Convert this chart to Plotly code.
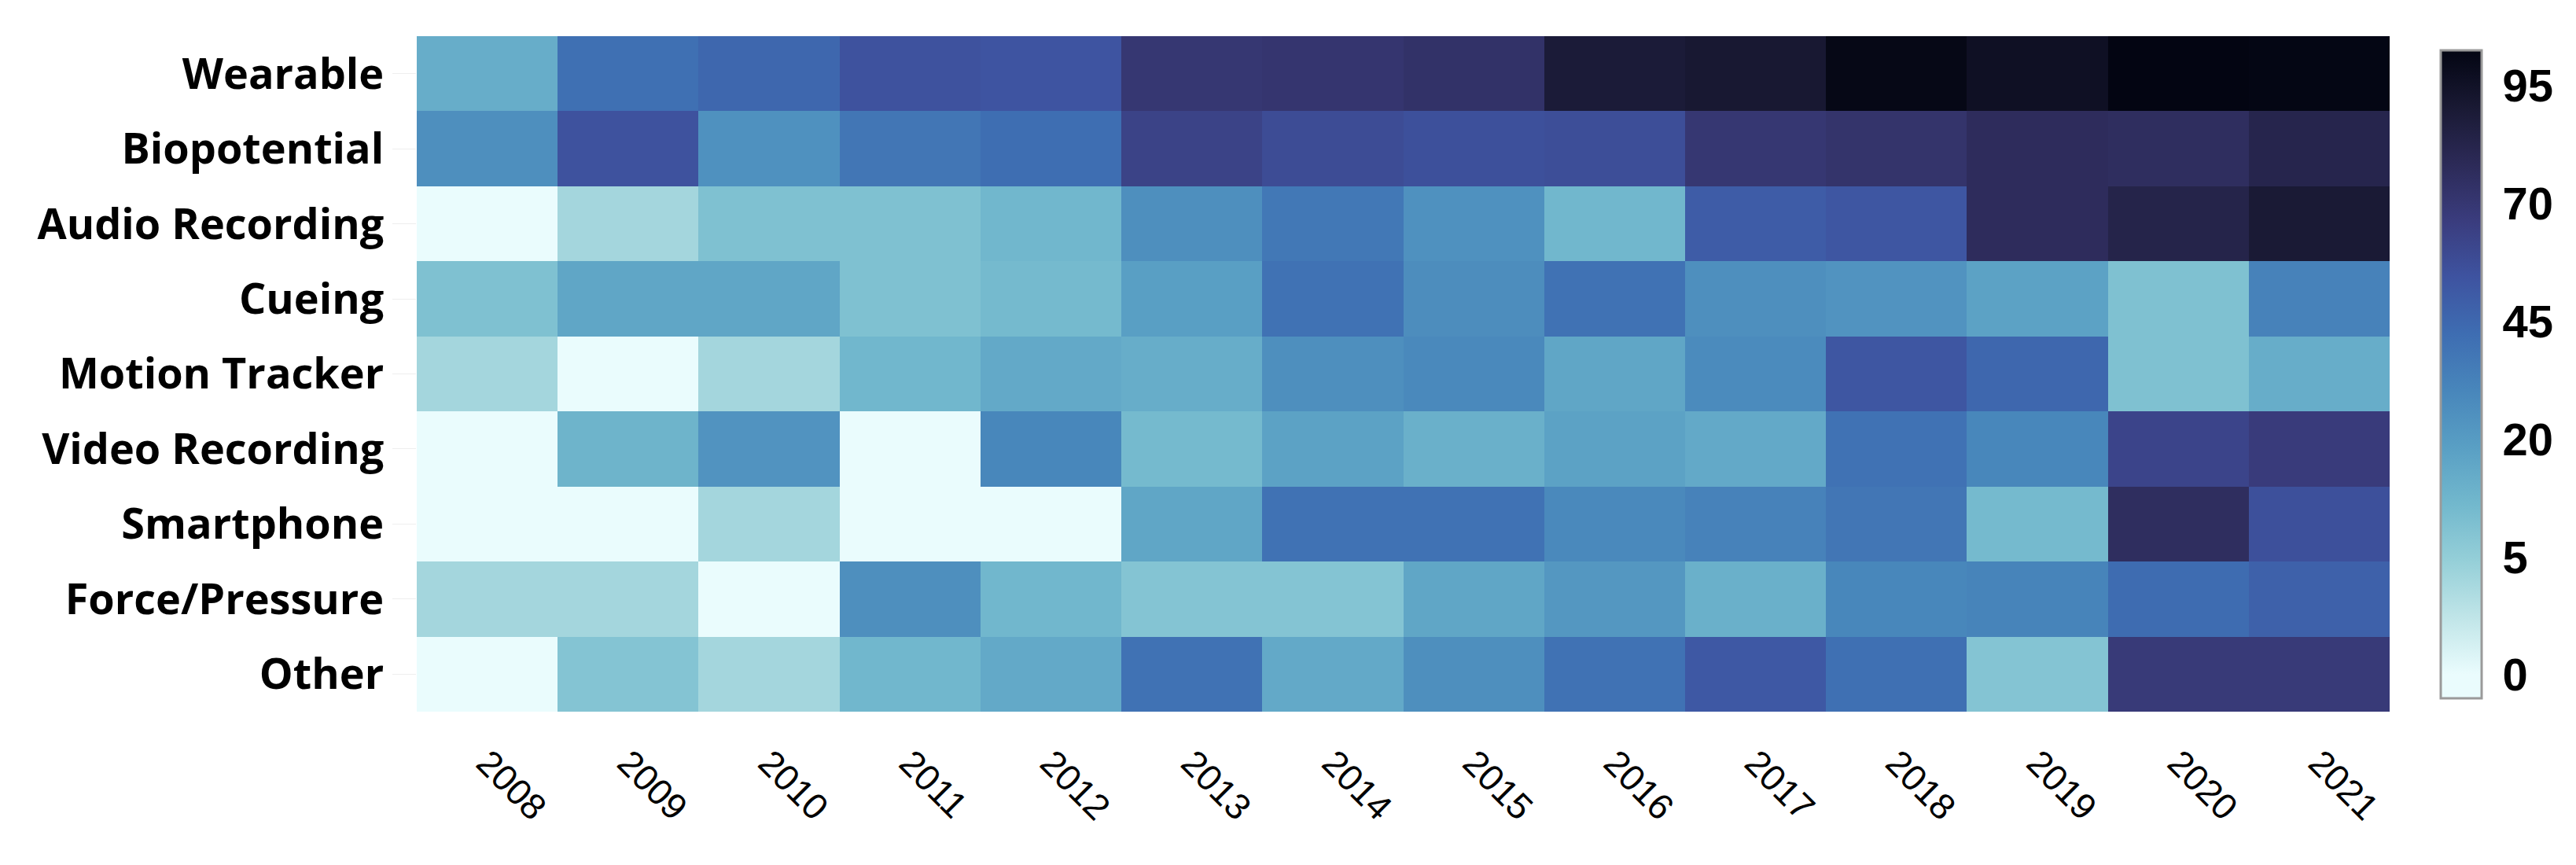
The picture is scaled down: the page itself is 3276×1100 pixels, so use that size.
import numpy as np
import plotly.graph_objects as go
import plotly.colors as pc

years = [str(y) for y in range(2008, 2022)]
categories = ["Wearable", "Biopotential", "Audio Recording", "Cueing", "Motion Tracker",
              "Video Recording", "Smartphone", "Force/Pressure", "Other"]

wearable        = [15, 41, 45, 55, 54, 70, 71, 73, 89, 91, 101, 96, 103, 102]
biopotential    = [26, 55, 25, 38, 42, 63, 58, 56, 57, 70, 72, 77, 76, 82]
audio_recording = [0, 4, 9, 9, 12, 26, 37, 25, 12, 50, 53, 77, 83, 90]
cueing          = [9, 17, 17, 9, 11, 19, 40, 27, 40, 26, 24, 18, 9, 32]
motion_tracker  = [4, 0, 4, 12, 16, 15, 26, 29, 17, 28, 53, 45, 9, 15]
video_recording = [0, 13, 24, 0, 30, 11, 18, 14, 18, 16, 40, 30, 62, 67]
smartphone      = [0, 0, 4, 0, 0, 17, 40, 40, 29, 32, 38, 11, 76, 56]
force_pressure  = [4, 4, 0, 26, 12, 8, 8, 17, 22, 14, 30, 31, 43, 48]
other           = [0, 8, 4, 12, 16, 40, 16, 26, 40, 52, 41, 8, 68, 68]

rows = [wearable, biopotential, audio_recording, cueing, motion_tracker,
        video_recording, smartphone, force_pressure, other]

# colorbar tick labels (evenly spaced on the colour axis)
tick_values = [0, 5, 20, 45, 70, 95]
tick_labels = [str(v) for v in tick_values]


def to_color_axis(v):
    v = np.asarray(v, dtype=float)
    idx = np.interp(v, tick_values, np.arange(len(tick_values)))
    above = v > tick_values[-1]
    idx[above] = len(tick_values) - 1 + (v[above] - tick_values[-1]) / 25.0
    return idx


raw = np.array(rows, dtype=float)
z = to_color_axis(raw.ravel()).reshape(raw.shape)

zmin, zmax = -0.197, 5.304
# reversed "ice" scale, starting at the value 0 so empty cells are the lightest colour
ice_r = pc.sequential.ice[::-1]
start = (0 - zmin) / (zmax - zmin)
n = len(ice_r)
colorscale = [[0.0, ice_r[0]]] + [[start + (1 - start) * i / (n - 1), c] for i, c in enumerate(ice_r)]

fig = go.Figure(go.Heatmap(
    z=z,
    x=years,
    y=categories,
    customdata=raw,
    hovertemplate="%{y} %{x}: %{customdata}<extra></extra>",
    colorscale=colorscale,
    zmin=zmin,
    zmax=zmax,
    colorbar=dict(
        tickvals=list(range(len(tick_values))),
        ticktext=tick_labels,
        tickfont=dict(family="Liberation Sans", size=58, color="black", weight="bold"),
        thickness=52,
        lenmode="pixels",
        len=844,
        ypad=10,
        y=0.5,
        yanchor="middle",
        x=1.026,
        xanchor="left",
        xpad=0,
        outlinecolor="#9a9a9a",
        outlinewidth=3,
        ticks="outside",
        ticklen=14,
        tickcolor="rgba(0,0,0,0)",
    ),
))

fig.update_layout(
    width=3276,
    height=1100,
    margin=dict(l=522, r=245, t=38, b=203),
    paper_bgcolor="white",
    plot_bgcolor="white",
    xaxis=dict(
        tickangle=45,
        tickfont=dict(family="Liberation Sans", size=46, color="black"),
        ticklabelstandoff=28,
        showgrid=False,
        zeroline=False,
        ticks="",
    ),
    yaxis=dict(
        autorange="reversed",
        tickfont=dict(family="Open Sans", size=54, color="black", weight="bold"),
        ticks="outside",
        ticklen=30,
        tickcolor="#eeeeee",
        showgrid=False,
        zeroline=False,
    ),
)

fig.write_html("out.html")
